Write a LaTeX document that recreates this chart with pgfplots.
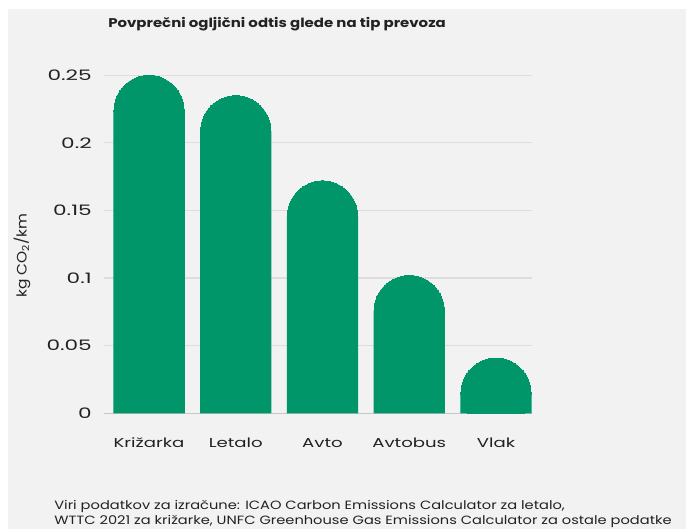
\documentclass[border=0pt]{standalone}
\usepackage{pgfplots}
\usepackage{pgfplotstable}
\pgfplotsset{compat=1.18}
\usepackage{fontspec}
\setmainfont{Poppins}[FakeStretch=1.3]
\newfontfamily\titlefont{Poppins}[FakeStretch=1.18]
\newfontfamily\footfont{Poppins}[FakeStretch=1.22]
\newfontfamily\tickfont{Poppins}[FakeStretch=1.5]
\newfontfamily\catfont{Poppins}[FakeStretch=1.4]
\newfontfamily\labfont{Poppins}[FakeStretch=1.12]
\definecolor{bg}{HTML}{F2F2F2}
\definecolor{bargreen}{HTML}{00966A}
\definecolor{gridgray}{HTML}{DDDDDD}
\definecolor{axisgray}{HTML}{C6C6C6}
\definecolor{txt}{HTML}{222222}
\pgfplotstableread{
x v
0 0.250
1 0.235
2 0.172
3 0.102
4 0.041
}\datatable
\begin{document}
\begin{tikzpicture}
\path[use as bounding box] (0pt,0pt) rectangle (514.5pt,396.75pt);
\fill[white] (0pt,0pt) rectangle (514.5pt,396.75pt);
\fill[bg] (6pt,0pt) rectangle (514.5pt,390pt);
\begin{axis}[
  at={(78pt,86.775pt)}, anchor=south west, scale only axis,
  width=321pt, height=273.8pt,
  xmin=-0.519, xmax=4.415, ymin=0, ymax=0.27,
  clip marker paths=true,
  axis x line*=bottom, axis y line*=left,
  y axis line style={draw=none},
  x axis line style={draw=axisgray, line width=1.1pt, -},
  xtick={0,1,2,3,4}, xticklabels={Križarka,Letalo,Avto,Avtobus,Vlak},
  ytick={0,0.05,0.1,0.15,0.2,0.25}, yticklabels={0,0.05,0.1,0.15,0.2,0.25},
  major tick length=0pt,
  ymajorgrids, grid style={draw=gridgray, line width=0.9pt},
  yticklabel style={anchor=east, inner sep=0pt, xshift=-9pt, font=\tickfont\fontsize{10.8}{12}\selectfont, text=txt},
  xticklabel style={anchor=base, inner sep=0pt, yshift=-25.5pt, font=\catfont\fontsize{9.7}{11}\selectfont, text=txt},
  ylabel={kg CO\textsubscript{2}/km},
  every axis y label/.style={at={(axis description cs:-0.1916,0.432)}, rotate=90, anchor=center, font=\labfont\fontsize{10.3}{12}\selectfont, text=txt},
]
\addplot[ybar, bar width=53.6pt, fill=bargreen, draw=none]
  table[x=x, y expr=\thisrow{v}-0.02604] {\datatable};
\addplot[color=bargreen, only marks, mark=*, mark size=26.3pt, mark options={fill=bargreen, draw=bargreen, line width=0pt}]
  table[x=x, y expr=\thisrow{v}-0.02604] {\datatable};
\end{axis}
\node[anchor=base west, inner sep=0pt, font=\titlefont\bfseries\fontsize{9.5}{11}\selectfont, text=txt] at (81pt,375.75pt) {Povprečni ogljični odtis glede na tip prevoza};
\node[anchor=base west, inner sep=0pt, font=\footfont\fontsize{9}{11}\selectfont, text=txt] at (40.5pt,15pt) {Viri podatkov za izračune: ICAO Carbon Emissions Calculator za letalo,};
\node[anchor=base west, inner sep=0pt, font=\footfont\fontsize{9}{11}\selectfont, text=txt] at (40.5pt,3.75pt) {WTTC 2021 za križarke, UNFC Greenhouse Gas Emissions Calculator za ostale podatke};
\end{tikzpicture}
\end{document}
